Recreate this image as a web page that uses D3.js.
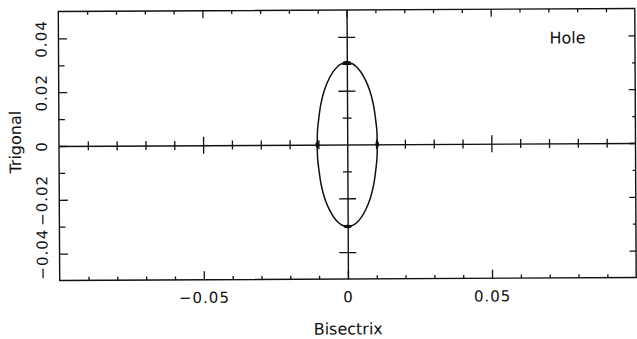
<!DOCTYPE html>
<html>
<head>
<meta charset="utf-8">
<script src="https://cdn.jsdelivr.net/npm/d3@7"></script>
<style>
html, body { margin: 0; padding: 0; background: #fff; }
svg { display: block; }
</style>
</head>
<body>
<div id="chart"></div>
<script>
// contour of the hole (bisectrix, trigonal)
var holeX = [0.0104, 0.0103, 0.0098, 0.0091, 0.0079, 0.0064, 0.0048, 0.0032, 0.0019, 0,
	-0.0019, -0.0032, -0.0048, -0.0064, -0.0079, -0.0091, -0.0098, -0.0103, -0.0104,
	-0.0103, -0.0098, -0.0091, -0.0079, -0.0064, -0.0048, -0.0032, -0.0019, 0,
	0.0019, 0.0032, 0.0048, 0.0064, 0.0079, 0.0091, 0.0098, 0.0103];
var holeY = [0, 0.005, 0.010, 0.015, 0.020, 0.024, 0.027, 0.029, 0.030, 0.0305,
	0.030, 0.029, 0.027, 0.024, 0.020, 0.015, 0.010, 0.005, 0,
	-0.005, -0.010, -0.015, -0.020, -0.024, -0.027, -0.029, -0.030, -0.0305,
	-0.030, -0.029, -0.027, -0.024, -0.020, -0.015, -0.010, -0.005];

// where the contour crosses the axes
var crossX = [-0.0104, 0.0104, 0, 0];
var crossY = [0, 0, 0.0305, -0.0305];

var xDomain = [-0.1, 0.1];
var yDomain = [-0.05, 0.05];
var xTicks = [-0.09, -0.08, -0.07, -0.06, -0.05, -0.04, -0.03, -0.02, -0.01, 0,
	0.01, 0.02, 0.03, 0.04, 0.05, 0.06, 0.07, 0.08, 0.09];
var yTicks = [-0.04, -0.03, -0.02, -0.01, 0, 0.01, 0.02, 0.03, 0.04];
var xLabels = [-0.05, 0, 0.05];
var yLabels = [-0.04, -0.02, 0, 0.02, 0.04];

var W = 637, H = 339;
var ink = "#111";
var font = "'DejaVu Sans', sans-serif";

var x = d3.scaleLinear().domain(xDomain).range([59, 635.5]);
var y = d3.scaleLinear().domain(yDomain).range([279, 10]);

var fmt = function(d) { return d === 0 ? "0" : d3.format(".2f")(d); };
var majX = function(d) { return Math.abs(d * 20 - Math.round(d * 20)) < 1e-6; };
var majY = function(d) { return Math.abs(d * 50 - Math.round(d * 50)) < 1e-6; };

var svg = d3.select("#chart").append("svg")
	.attr("width", W)
	.attr("height", H);

// the scan is a little tilted
var g = svg.append("g").attr("transform", "rotate(-0.3 347 145)");

g.append("rect")
	.attr("x", x(xDomain[0]))
	.attr("y", y(yDomain[1]))
	.attr("width", x(xDomain[1]) - x(xDomain[0]))
	.attr("height", y(yDomain[0]) - y(yDomain[1]))
	.attr("fill", "none")
	.attr("stroke", ink)
	.attr("stroke-width", 1.4);

// tick marks only; ends(d) gives both ends of the tick line
function tickAxis(axis, tr, vals, dim, ends, keepLine) {
	var a = g.append("g")
		.attr("transform", tr)
		.call(axis.tickValues(vals).tickFormat("").tickSizeOuter(0));
	if (keepLine) {
		a.select(".domain").attr("stroke", ink).attr("stroke-width", 1.4);
	} else {
		a.select(".domain").remove();
	}
	a.selectAll(".tick line")
		.attr(dim + "1", function(d) { return ends(d)[0]; })
		.attr(dim + "2", function(d) { return ends(d)[1]; })
		.attr("stroke", ink)
		.attr("stroke-width", 1.3);
	return a;
}

// frame ticks
tickAxis(d3.axisBottom(x), "translate(0," + y(yDomain[0]) + ")", xTicks, "y",
	function(d) { return [0, majX(d) ? -8.5 : -3.5]; });
tickAxis(d3.axisTop(x), "translate(0," + y(yDomain[1]) + ")", xTicks, "y",
	function(d) { return [0, majX(d) ? 7.5 : 3.5]; });
tickAxis(d3.axisLeft(y), "translate(" + x(xDomain[0]) + ",0)", yTicks, "x",
	function(d) { return [0, majY(d) ? 8.5 : 6]; });
tickAxis(d3.axisRight(y), "translate(" + x(xDomain[1]) + ",0)", yTicks, "x",
	function(d) { return [0, majY(d) ? -6.5 : -3]; });

// axes through the origin, ticks crossing the line
tickAxis(d3.axisBottom(x), "translate(0," + y(0) + ")", xTicks.filter(function(d) { return d !== 0; }), "y",
	function(d) { return majX(d) ? [-8.5, 8.5] : [-4.5, 4.5]; }, true);
tickAxis(d3.axisLeft(y), "translate(" + x(0) + ",0)", yTicks.filter(function(d) { return d !== 0; }), "x",
	function(d) { return majY(d) ? [-8.5, 8.5] : [-4.5, 4.5]; }, true);

// tick labels
var xl = g.append("g")
	.attr("transform", "translate(0," + y(yDomain[0]) + ")")
	.call(d3.axisBottom(x).tickValues(xLabels).tickFormat(fmt).tickSize(0).tickPadding(12.5));
xl.select(".domain").remove();
xl.selectAll("text")
	.attr("fill", ink)
	.style("font-family", font)
	.style("font-size", "15px")
	.style("letter-spacing", "1px");

var yl = g.append("g")
	.attr("transform", "translate(" + x(xDomain[0]) + ",0)")
	.call(d3.axisLeft(y).tickValues(yLabels).tickFormat(fmt).tickSize(0));
yl.select(".domain").remove();
yl.selectAll("text")
	.attr("x", 0)
	.attr("y", 0)
	.attr("dy", 0)
	.attr("text-anchor", "middle")
	.attr("transform", "translate(-12,0) rotate(-90)")
	.attr("fill", ink)
	.style("font-family", font)
	.style("font-size", "15px")
	.style("letter-spacing", "1px");

// the contour
var line = d3.line()
	.x(function(d, i) { return x(holeX[i]); })
	.y(function(d, i) { return y(holeY[i]); })
	.curve(d3.curveCatmullRomClosed.alpha(0.5));

g.append("path")
	.attr("d", line(holeX))
	.attr("fill", "none")
	.attr("stroke", ink)
	.attr("stroke-width", 1.5);

g.selectAll(".cross")
	.data(crossX)
	.enter().append("ellipse")
	.attr("class", "cross")
	.attr("cx", function(d) { return x(d); })
	.attr("cy", function(d, i) { return y(crossY[i]); })
	.attr("rx", function(d, i) { return crossY[i] === 0 ? 1.8 : 4; })
	.attr("ry", function(d, i) { return crossY[i] === 0 ? 3 : 1.8; })
	.attr("fill", ink);

// titles
g.append("text")
	.attr("x", x(0))
	.attr("y", 334.5)
	.attr("text-anchor", "middle")
	.attr("fill", ink)
	.style("font-family", font)
	.style("font-size", "16px")
	.text("Bisectrix");

g.append("text")
	.attr("transform", "translate(21," + (y(0) - 4) + ") rotate(-90)")
	.attr("text-anchor", "middle")
	.attr("fill", ink)
	.style("font-family", font)
	.style("font-size", "16px")
	.text("Trigonal");

g.append("text")
	.attr("x", 550)
	.attr("y", 44.5)
	.attr("fill", ink)
	.style("font-family", font)
	.style("font-size", "16px")
	.text("Hole");
</script>
</body>
</html>
